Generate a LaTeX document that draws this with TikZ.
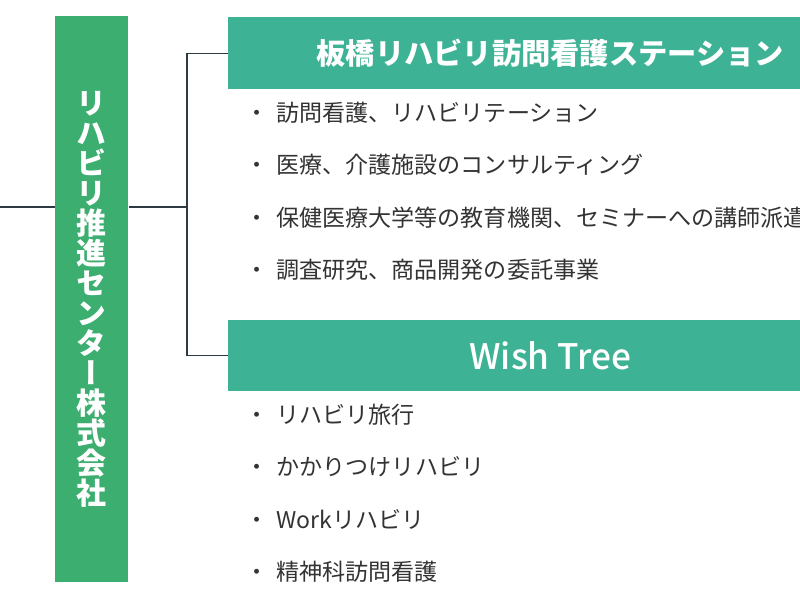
\documentclass[tikz,border=0pt]{standalone}
\usepackage{fontspec}
\setmainfont{Noto Sans CJK JP}
\newfontfamily\medfont{Noto Sans CJK JP}[UprightFont=* Medium]
\newfontfamily\vertfont[RawFeature=+vert]{Noto Sans CJK JP}
\usetikzlibrary{positioning}
\definecolor{rehagreen}{RGB}{60,174,112}
\definecolor{headteal}{RGB}{61,178,148}
\definecolor{linegray}{RGB}{45,58,66}
\definecolor{itemgray}{RGB}{51,51,51}

\begin{document}
\begin{tikzpicture}[x=0.025cm,y=-0.025cm,
head/.style={fill=headteal,text=white,anchor=north west,minimum width=16.1cm,
  minimum height=1.8cm,inner sep=0pt,font=\fontsize{20.8}{24}\selectfont\bfseries},
item/.style={anchor=west,inner sep=0pt,text=itemgray,font=\fontsize{16.4}{20}\selectfont},
conn/.style={draw=linegray,line width=0.8pt}]
\clip (0,0) rectangle (800,600);
\node[fill=rehagreen,anchor=north west,minimum width=1.825cm,minimum height=14.15cm,inner sep=0pt,
  text=white,align=center,font=\fontsize{21.3}{21.3}\vertfont\bfseries] (company) at (55,16)
  {リ\\ハ\\ビ\\リ\\推\\進\\セ\\ン\\タ\\ー\\株\\式\\会\\社};
\node[head] (station) at (228,17) {板橋リハビリ訪問看護ステーション};
\node[head,minimum height=1.775cm,font=\fontsize{25}{30}\medfont] (wish) at (228,320) {Wish Tree};
% list items
\node[item] (st1) at (245,113) {・\hspace{0.35em}訪問看護、リハビリテーション};
\node[item] (st2) at (245,165) {・\hspace{0.35em}医療、介護施設のコンサルティング};
\node[item] (st3) at (245,218) {・\hspace{0.35em}保健医療大学等の教育機関、セミナーへの講師派遣};
\node[item] (st4) at (245,270) {・\hspace{0.35em}調査研究、商品開発の委託事業};
\node[item] (wt1) at (245,415) {・\hspace{0.35em}リハビリ旅行};
\node[item] (wt2) at (245,467) {・\hspace{0.35em}かかりつけリハビリ};
\node[item] (wt3) at (245,519) {・\hspace{0.35em}Workリハビリ};
\node[item] (wt4) at (245,572) {・\hspace{0.35em}精神科訪問看護};
% connectors
\coordinate (lend) at (0,207);
\coordinate (hub) at (187,207);
\draw[conn] (lend) -- (company.west |- lend);
\draw[conn] (company.east |- hub) -- (hub);
\draw[conn] (hub) |- (station.west);
\draw[conn] (hub) |- (wish.west);
\end{tikzpicture}
\end{document}
